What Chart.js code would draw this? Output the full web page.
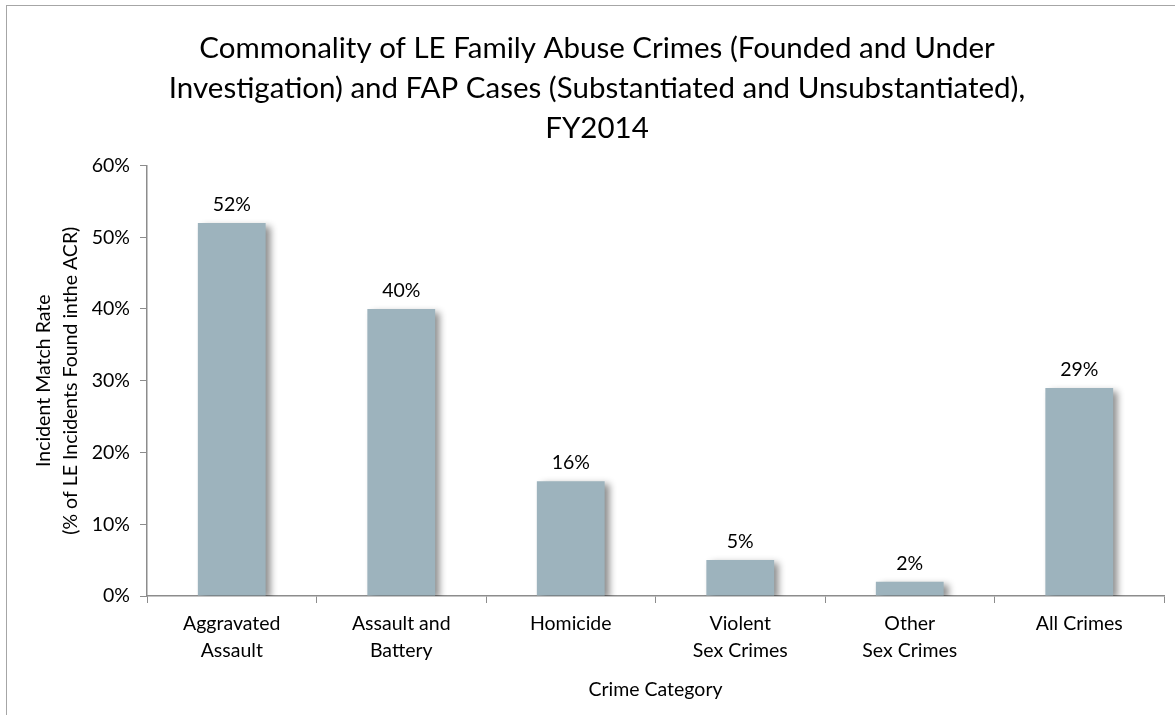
<!DOCTYPE html>
<html>
<head>
<meta charset="utf-8">
<script src="https://cdn.jsdelivr.net/npm/chart.js@4"></script>
<style>
  html, body { margin: 0; padding: 0; background: #fff; }
  #wrap { position: relative; width: 1175px; height: 715px; overflow: hidden; }
  #frame { position: absolute; left: 6px; top: 5px; width: 1300px; height: 800px;
           border-left: 1.5px solid #a6a6a6; border-top: 1.5px solid #a6a6a6; }
  canvas { position: absolute; left: 0; top: 0; }
</style>
</head>
<body>
<div id="wrap">
  <div id="frame"></div>
  <canvas id="chart" width="1175" height="715"></canvas>
</div>
<script>
const categories = [
  ['Aggravated', 'Assault'],
  ['Assault and', 'Battery'],
  'Homicide',
  ['Violent', 'Sex Crimes'],
  ['Other', 'Sex Crimes'],
  'All Crimes'
];
const matchRate = [52, 40, 16, 5, 2, 29];
const yTicks = [0, 10, 20, 30, 40, 50, 60];

const titleLines = [
  'Commonality of LE Family Abuse Crimes (Founded and Under',
  'Investigation) and FAP Cases (Substantiated and Unsubstantiated),',
  'FY2014'
];
const yTitle = ['Incident Match Rate', '(% of LE Incidents Found inthe ACR)'];
const xTitle = 'Crime Category';

const FONT = "Lato, 'Open Sans', 'DejaVu Sans', sans-serif";
const axisColor = '#8c8c8c';
const LEFT_PAD = 30;

// soft drop shadow behind the bars
const barShadow = {
  id: 'barShadow',
  beforeDatasetsDraw(chart) {
    const ctx = chart.ctx;
    ctx.save();
    ctx.shadowColor = 'rgba(0,0,0,0.45)';
    ctx.shadowBlur = 7;
    ctx.shadowOffsetX = 5;
    ctx.shadowOffsetY = 3;
  },
  afterDatasetsDraw(chart) {
    chart.ctx.restore();
  }
};

// value labels above each bar
const valueLabels = {
  id: 'valueLabels',
  afterDatasetsDraw(chart) {
    const ctx = chart.ctx;
    const meta = chart.getDatasetMeta(0);
    ctx.save();
    ctx.font = '19.5px ' + FONT;
    ctx.fillStyle = '#000';
    ctx.textAlign = 'center';
    ctx.textBaseline = 'alphabetic';
    meta.data.forEach((bar, i) => {
      ctx.fillText(matchRate[i] + '%', bar.x, bar.y - 12);
    });
    ctx.restore();
  }
};

const ctx = document.getElementById('chart').getContext('2d');
new Chart(ctx, {
  type: 'bar',
  data: {
    labels: categories,
    datasets: [{
      data: matchRate,
      backgroundColor: '#9db3bd',
      borderWidth: 0,
      categoryPercentage: 1,
      barPercentage: 0.4
    }]
  },
  options: {
    responsive: false,
    animation: false,
    layout: { padding: { left: LEFT_PAD, right: 11, top: 10, bottom: 14 } },
    plugins: {
      legend: { display: false },
      tooltip: { enabled: false },
      title: {
        display: true,
        text: titleLines,
        color: '#000',
        font: { family: FONT, size: 29.5, weight: 'normal', lineHeight: 1.35 },
        padding: { top: 19, bottom: 17 }
      }
    },
    scales: {
      x: {
        offset: true,
        grid: {
          display: true,
          offset: true,
          drawOnChartArea: false,
          drawTicks: true,
          tickLength: 7,
          color: axisColor
        },
        border: { color: axisColor, width: 1.5 },
        ticks: {
          color: '#000',
          font: { family: FONT, size: 19.5, lineHeight: 1.4 },
          padding: 7,
          maxRotation: 0
        },
        title: {
          display: true,
          text: xTitle,
          color: '#000',
          font: { family: FONT, size: 19.5 },
          padding: { top: 6, bottom: 0 }
        }
      },
      y: {
        min: 0,
        max: 60,
        afterBuildTicks(scale) {
          scale.ticks = yTicks.map(v => ({ value: v }));
        },
        afterFit(scale) {
          scale.width = 147 - LEFT_PAD;
        },
        grid: {
          display: true,
          drawOnChartArea: false,
          drawTicks: true,
          tickLength: 7,
          color: axisColor
        },
        border: { color: axisColor, width: 1.5 },
        ticks: {
          color: '#000',
          font: { family: FONT, size: 19.5 },
          padding: 10,
          callback: v => v + '%'
        },
        title: {
          display: true,
          text: yTitle,
          color: '#000',
          font: { family: FONT, size: 19.5, lineHeight: 1.4 },
          padding: { top: 0, bottom: 4 }
        }
      }
    }
  },
  plugins: [barShadow, valueLabels]
});
</script>
</body>
</html>
